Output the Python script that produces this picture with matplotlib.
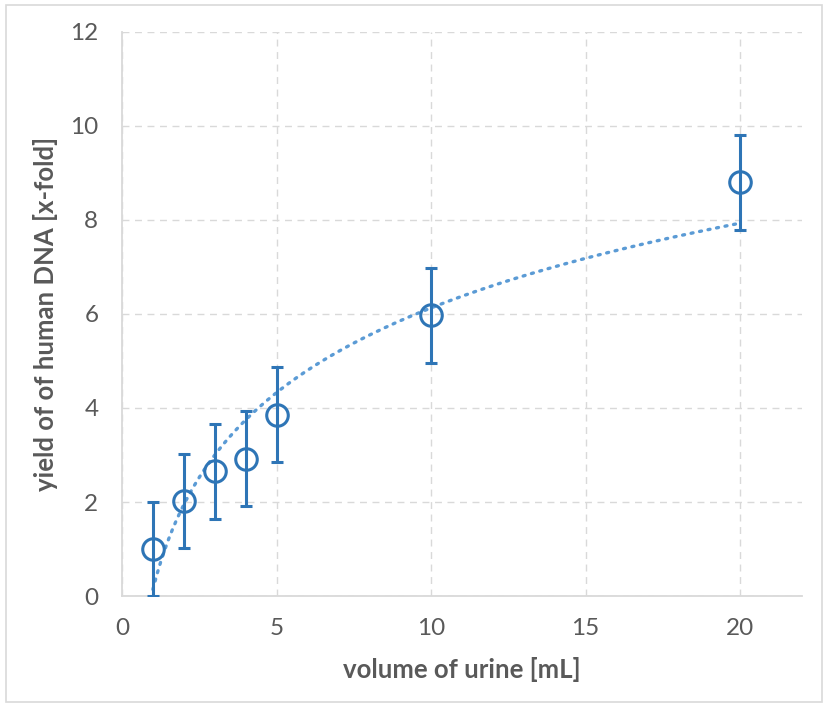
import matplotlib
matplotlib.use("Agg")
import matplotlib.pyplot as plt
from matplotlib.patches import Rectangle
import numpy as np

plt.rcParams['font.family'] = ['Lato', 'DejaVu Sans']

# data
volume = [1, 2, 3, 4, 5, 10, 20]
yield_fold = [1.0, 2.02, 2.65, 2.92, 3.86, 5.97, 8.8]
err = [1.01, 1.0, 1.01, 1.01, 1.01, 1.01, 1.01]

x_ticks = [0, 5, 10, 15, 20]
y_ticks = [0, 2, 4, 6, 8, 10, 12]

blue = '#2E75B6'
trend_blue = '#5B9BD5'
grid_gray = '#D9D9D9'
text_gray = '#595959'

fig = plt.figure(figsize=(8.27, 7.06), dpi=100)
ax = fig.add_axes([0.1475, 0.1558, 0.8223, 0.7989])

# logarithmic trendline fitted to the data
a, b = np.polyfit(np.log(volume), yield_fold, 1)
xs = np.linspace(min(volume), max(volume), 300)
ax.plot(xs, a * np.log(xs) + b, linestyle=(0, (0.6, 2.0)), color=trend_blue,
        linewidth=2.4, dash_capstyle='round', zorder=2)

ax.errorbar(volume, yield_fold, yerr=err, fmt='o', markersize=15.5,
            markerfacecolor='none', markeredgecolor=blue, markeredgewidth=2.2,
            ecolor=blue, elinewidth=2.2, capsize=4.5, capthick=2.2, zorder=3)

ax.set_xlim(0, 22)
ax.set_ylim(0, 12)
ax.set_xticks(x_ticks)
ax.set_yticks(y_ticks)
ax.grid(True, color=grid_gray, linestyle=(0, (5, 4)), linewidth=1)
ax.set_axisbelow(True)
ax.tick_params(length=0, labelsize=17.5, colors=text_gray)
ax.tick_params(axis='x', pad=16)
ax.tick_params(axis='y', pad=17)
for side in ['top', 'right']:
    ax.spines[side].set_visible(False)
for side in ['left', 'bottom']:
    ax.spines[side].set_color(grid_gray)
    ax.spines[side].set_linewidth(1.3)

ax.set_xlabel('volume of urine [mL]', fontsize=18.5, fontweight='bold',
              color=text_gray, labelpad=13)
ax.set_ylabel('yield of of human DNA [x-fold]', fontsize=18.5, fontweight='bold',
              color=text_gray, labelpad=9)

# light frame around the whole chart
fig.patches.append(Rectangle((6 / 827, 4 / 706), 816 / 827, 697 / 706,
                             transform=fig.transFigure, fill=False,
                             edgecolor=grid_gray, linewidth=1.2))

fig.savefig('out.png', dpi=100)
